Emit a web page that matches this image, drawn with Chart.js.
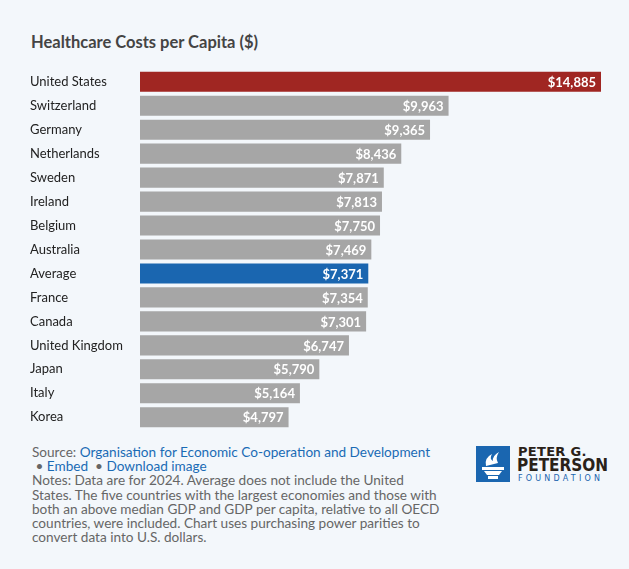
<!DOCTYPE html>
<html lang="en">
<head>
<meta charset="UTF-8">
<title>Healthcare Costs per Capita</title>
<style>
  body { margin: 0; background: #f3f7fb; font-family: Lato, sans-serif; width: 629px; height: 569px; overflow: hidden; position: relative; }
  h1 { position: absolute; left: 31px; top: 32px; margin: 0; font-size: 16.5px; font-weight: bold; color: #444; }
  #wrap { position: absolute; left: 30px; top: 62px; width: 571px; height: 375px; }
  .notes { position: absolute; left: 32px; top: 445px; width: 408px; font-size: 13.6px; line-height: 14.2px; color: #666; }
  .notes a { color: #1a6bb5; text-decoration: none; }
  .logo { position: absolute; left: 476px; top: 446px; }
  .logo .sq { position: absolute; left: 0; top: 0; width: 34px; height: 36px; background: #1a66b0; }
  .logo .t1 { position: absolute; left: 42px; top: -2px; font: bold 13px "DejaVu Sans", sans-serif; color: #2a2118; white-space: nowrap; letter-spacing: 0.3px; }
  .logo .t2 { position: absolute; left: 41px; top: 9px; font: bold 17px "DejaVu Sans Condensed", sans-serif; color: #2a2118; white-space: nowrap; }
  .logo .t3 { position: absolute; left: 42px; top: 28px; font: 8px "DejaVu Sans", sans-serif; color: #1a66b0; letter-spacing: 3.2px; white-space: nowrap; }
</style>
</head>
<body>
<h1>Healthcare Costs per Capita ($)</h1>
<div id="wrap"><canvas id="chart"></canvas></div>
<div class="notes">
  Source: <a>Organisation for Economic Co-operation and Development</a><br>
  &nbsp;• <a>Embed</a> &nbsp;• <a>Download image</a><br>
  Notes: Data are for 2024. Average does not include the United States. The five countries with the largest economies and those with both an above median GDP and GDP per capita, relative to all OECD countries, were included. Chart uses purchasing power parities to convert data into U.S. dollars.
</div>
<div class="logo">
  <div class="sq">
    <svg width="34" height="36" viewBox="0 0 34 36">
      <path d="M10 20 Q8 12 16 8 Q13 13 17 15 Q16 10 23 6 Q19 12 22 17 Z" fill="#fff"/>
      <rect x="6" y="21" width="22" height="3" fill="#fff"/>
      <path d="M8 25 H26 L23 29 H11 Z" fill="#fff"/>
      <rect x="12" y="30" width="10" height="3" fill="#fff"/>
    </svg>
  </div>
  <div class="t1">PETER G.</div>
  <div class="t2">PETERSON</div>
  <div class="t3">FOUNDATION</div>
</div>
<script src="https://cdn.jsdelivr.net/npm/chart.js"></script>
<script>
const countries = ['United States','Switzerland','Germany','Netherlands','Sweden','Ireland','Belgium','Australia','Average','France','Canada','United Kingdom','Japan','Italy','Korea'];
const costs = [14885, 9963, 9365, 8436, 7871, 7813, 7750, 7469, 7371, 7354, 7301, 6747, 5790, 5164, 4797];
const barColors = countries.map(c => c === 'United States' ? '#a02622' : c === 'Average' ? '#1a66b0' : '#a6a6a6');

const valueLabels = {
  id: 'valueLabels',
  afterDatasetsDraw(chart) {
    const ctx = chart.ctx;
    const meta = chart.getDatasetMeta(0);
    ctx.save();
    ctx.fillStyle = '#fff';
    ctx.font = 'bold 13px Lato';
    ctx.textAlign = 'right';
    ctx.textBaseline = 'middle';
    meta.data.forEach((bar, i) => {
      ctx.fillText('$' + costs[i].toLocaleString('en-US'), bar.x - 5, bar.y + 1);
    });
    ctx.restore();
  }
};

new Chart(document.getElementById('chart'), {
  type: 'bar',
  data: {
    labels: countries,
    datasets: [{ data: costs, backgroundColor: barColors, barPercentage: 0.84, categoryPercentage: 1 }]
  },
  options: {
    indexAxis: 'y',
    responsive: true,
    maintainAspectRatio: false,
    animation: false,
    layout: { padding: 0 },
    plugins: { legend: { display: false }, tooltip: { enabled: false } },
    scales: {
      x: { display: false, min: 0, max: 14885 },
      y: {
        grid: { display: false },
        border: { display: false },
        ticks: { color: '#222', font: { family: 'Lato', size: 13 }, crossAlign: 'far', padding: 0 },
        afterFit(scale) { scale.width = 110; }
      }
    }
  },
  plugins: [valueLabels]
});
</script>
</body>
</html>
